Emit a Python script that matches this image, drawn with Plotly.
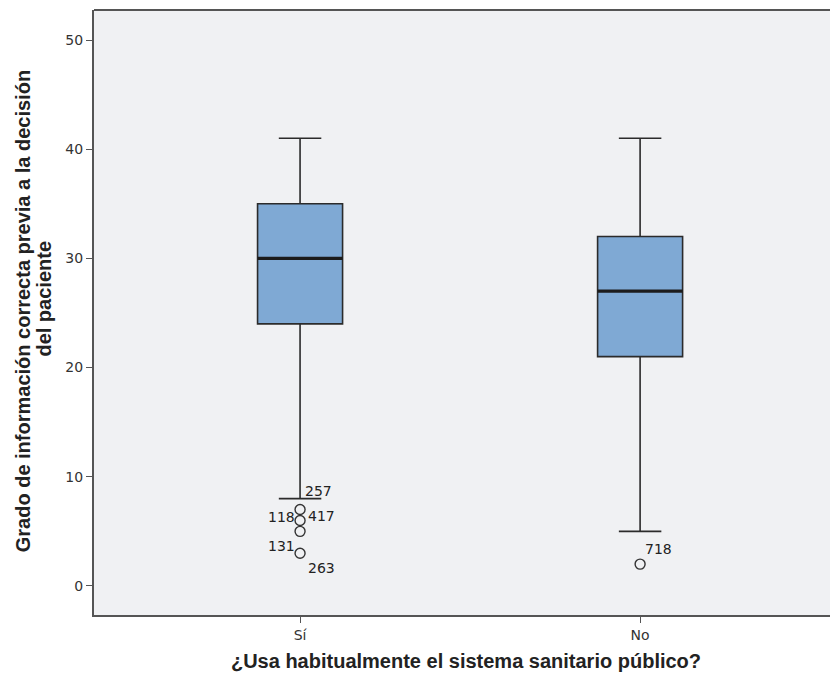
import plotly.graph_objects as go

categories = ["Sí", "No"]
q1 = [24, 21]
median = [30, 27]
q3 = [35, 32]
lower_fence = [8, 5]
upper_fence = [41, 41]
outlier_groups = [0, 0, 0, 0, 1]
outlier_values = [7, 6, 5, 3, 2]
label_groups = [0, 0, 0, 0, 0, 1]
label_values = [7, 6, 6, 3, 3, 2]
label_texts = ["257", "118", "417", "131", "263", "718"]
label_dx = [18, -19, 21, -19, 21, 18]
label_dy = [19, 3, 4, 7, -15, 15]
y_title_lines = ["Grado de información correcta previa a la decisión", "del paciente"]
y_title_dx = [-71, -50]
y_title_pos = [0.502, 0.523]

box_w = 0.25
fig = go.Figure()
for i, c in enumerate(categories):
    fig.add_trace(go.Box(
        x=[i], q1=[q1[i]], median=[median[i]], q3=[q3[i]],
        lowerfence=[lower_fence[i]], upperfence=[upper_fence[i]],
        width=box_w, whiskerwidth=0.5, boxpoints=False,
        fillcolor="#7fa9d4", line=dict(color="#2b2b2b", width=1.6),
        showlegend=False, hoverinfo="skip",
    ))
    fig.add_trace(go.Scatter(
        x=[i - box_w / 2, i + box_w / 2], y=[median[i], median[i]],
        mode="lines", line=dict(color="#1c1c1c", width=3.2),
        showlegend=False, hoverinfo="skip",
    ))

fig.add_trace(go.Scatter(
    x=outlier_groups, y=outlier_values, mode="markers",
    marker=dict(symbol="circle-open", size=10, color="#333333", line=dict(width=1.4)),
    showlegend=False, hoverinfo="skip",
))

for g, v, t, dx, dy in zip(label_groups, label_values, label_texts, label_dx, label_dy):
    fig.add_annotation(x=g, y=v, text=t, showarrow=False, xshift=dx, yshift=dy,
                       font=dict(family="DejaVu Sans", size=14, color="#222222"))

for t, dx, yp in zip(y_title_lines, y_title_dx, y_title_pos):
    fig.add_annotation(x=0, y=yp, xref="paper", yref="paper", text=t, textangle=-90,
                       showarrow=False, xanchor="center", yanchor="middle", xshift=dx,
                       font=dict(family="Liberation Sans", size=20, color="#222222", weight="bold"))

fig.add_shape(type="line", xref="paper", yref="paper", x0=0, x1=1, y0=1, y1=1,
              line=dict(color="#555555", width=2))

fig.update_layout(
    width=830, height=671,
    margin=dict(l=86, r=0, t=2, b=64),
    paper_bgcolor="white", plot_bgcolor="#f0f1f3",
    font=dict(family="DejaVu Sans", size=13, color="#333333"),
    xaxis=dict(
        range=[-0.606, 1.582], tickvals=[0, 1], ticktext=categories,
        showgrid=False, zeroline=False, showline=True, linecolor="#555555", linewidth=2,
        ticks="outside", ticklen=6, tickcolor="#555555",
        tickfont=dict(family="DejaVu Sans", size=14, color="#333333"),
        title=dict(text="¿Usa habitualmente el sistema sanitario público?",
                   font=dict(family="Liberation Sans", size=20, color="#222222", weight="bold"),
                   standoff=12),
    ),
    yaxis=dict(
        range=[-2.66, 52.75], tickvals=[0, 10, 20, 30, 40, 50],
        showgrid=False, zeroline=False, showline=True, linecolor="#555555", linewidth=2,
        ticks="outside", ticklen=6, tickcolor="#555555",
        tickfont=dict(family="DejaVu Sans", size=14, color="#333333"),
    ),
)

fig.write_html("out.html")
